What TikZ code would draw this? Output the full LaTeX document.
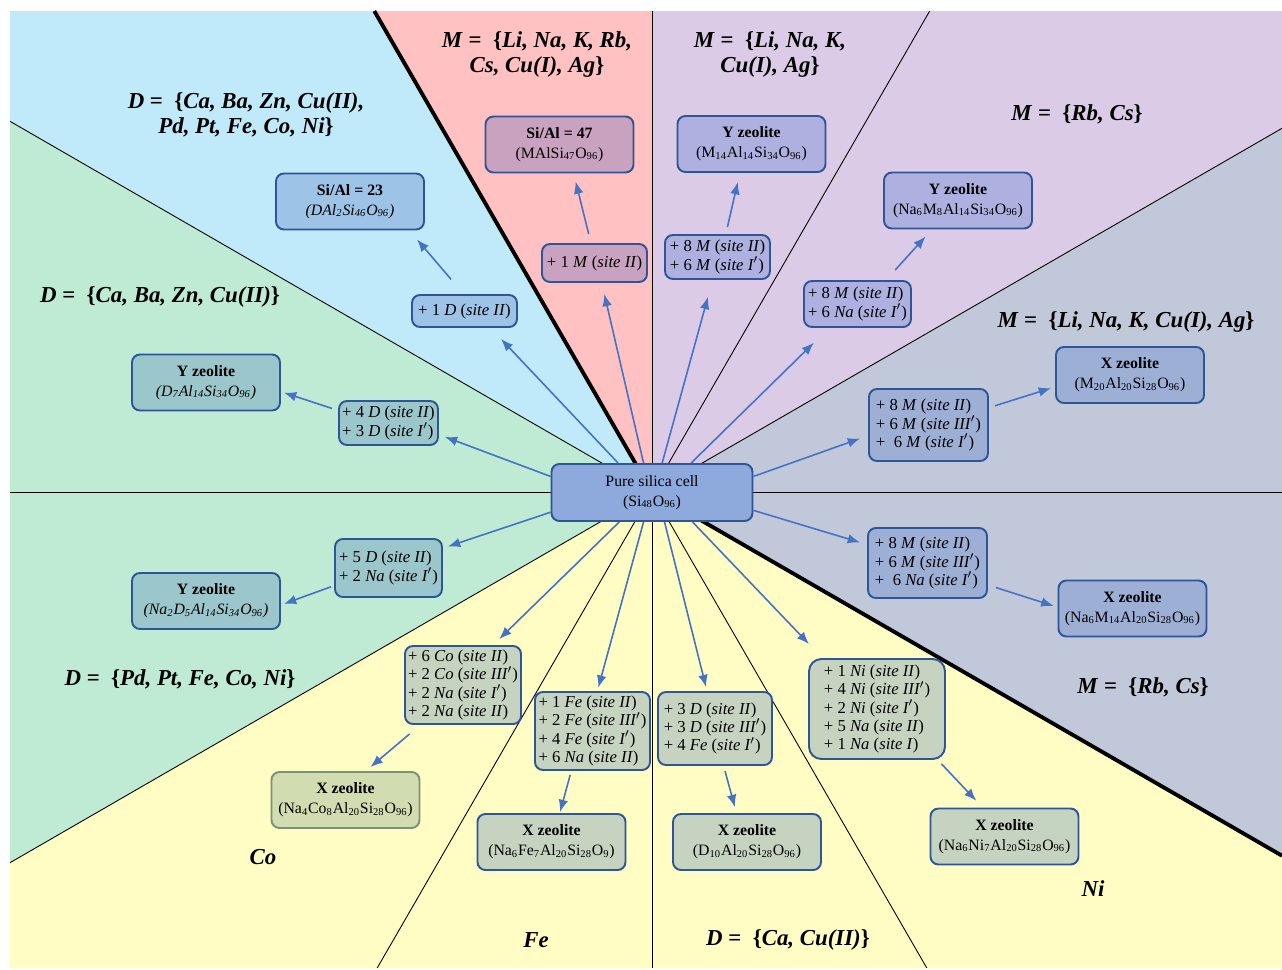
\documentclass[tikz,border=0pt]{standalone}
\usepackage{fontspec}
\setmainfont{Liberation Serif}
\usetikzlibrary{arrows.meta}

\definecolor{skyfill}{HTML}{C0E9F9}
\definecolor{pinkfill}{HTML}{FFC1C1}
\definecolor{lilacfill}{HTML}{DCCBE7}
\definecolor{slatefill}{HTML}{C1C8D9}
\definecolor{creamfill}{HTML}{FFFDC4}
\definecolor{mintfill}{HTML}{BFEAD4}
\definecolor{cellfill}{HTML}{8EA9DB}
\definecolor{skybox}{HTML}{9DC3E6}
\definecolor{pinkbox}{HTML}{C8A2BF}
\definecolor{lilacbox}{HTML}{AEB1DF}
\definecolor{slatebox}{HTML}{9EAFD6}
\definecolor{mintbox}{HTML}{9BC6CB}
\definecolor{creambox}{HTML}{C6D3C1}
\definecolor{olivebox}{HTML}{D2DCB1}
\definecolor{oliveline}{HTML}{7B9278}
\definecolor{boxline}{HTML}{2F5597}
\definecolor{arrowblue}{HTML}{4472C4}

\newcommand{\sbx}[1]{\textsubscript{#1}}
\newcommand{\addion}[3]{+\ #1\ \textit{#2}\ (\textit{site\ #3})}
\newcommand{\ionset}[2]{#1\ \textup{=}\ \ \textup{\{}#2\textup{\}}}

\begin{document}
\begin{tikzpicture}[x=0.02cm,y=-0.02cm,
    box/.style={draw=boxline,line width=1.1pt,rounded corners=4.5pt,align=center,
      inner sep=1pt,font=\fontsize{9}{11.3}\selectfont},
    sitebox/.style={box,align=left,font=\fontsize{9.5}{10.4}\selectfont},
    zeo/.style={box,minimum width=2.96cm,minimum height=1.12cm},
    region/.style={align=center,font=\fontsize{13}{14.4}\selectfont\bfseries\itshape},
    divider/.style={line width=0.5pt},
    bolddivider/.style={line width=2.2pt},
    arr/.style={-{Latex[length=7pt,width=5.5pt]},arrowblue,line width=0.9pt}]
   \useasboundingbox (0,0) rectangle (1282,970);
   \fill[white] (0,0) rectangle (1282,970);
   % sectors
   \coordinate (o) at (652,492);
   \fill[pinkfill] (o) -- (374.3,11) -- (652,11) -- cycle;
   \fill[lilacfill] (o) -- (652,11) -- (1282,11) -- (1282,128.3) -- cycle;
   \fill[slatefill] (o) -- (1282,128.3) -- (1282,855.7) -- cycle;
   \fill[creamfill] (o) -- (1282,855.7) -- (1282,968) -- (10,968) -- (10,862.7) -- cycle;
   \fill[mintfill] (o) -- (10,862.7) -- (10,121.3) -- cycle;
   \fill[skyfill] (o) -- (10,121.3) -- (10,11) -- (374.3,11) -- cycle;
   \draw[divider] (10,492) -- (1282,492);
   \draw[divider] (652,11) -- (652,968);
   \draw[divider] (10,121.3) -- (o) (929.7,11) -- (377.2,968)
      (1282,128.3) -- (10,862.7) (o) -- (926.8,968);
   \draw[bolddivider] (374.3,11) -- (o) -- (1282,855.7);
   % region labels
   \node[region] (lsky) at (246,115) {\ionset{D}{Ca, Ba, Zn, Cu(II),\\ Pd, Pt, Fe, Co, Ni}};
   \node[region] (lpink) at (537,54.5) {\ionset{M}{Li, Na, K, Rb,\\ Cs, Cu(I), Ag}};
   \node[region] (llilac) at (770,54.5) {\ionset{M}{Li, Na, K,\\ Cu(I), Ag}};
   \node[region] (lrbcs) at (1077,114) {\ionset{M}{Rb, Cs}};
   \node[region] (lalk) at (1126,322) {\ionset{M}{Li, Na, K, Cu(I), Ag}};
   \node[region] (ldiv) at (160,297) {\ionset{D}{Ca, Ba, Zn, Cu(II)}};
   \node[region] (ltrans) at (180,679) {\ionset{D}{Pd, Pt, Fe, Co, Ni}};
   \node[region] (lrbcs2) at (1143,687) {\ionset{M}{Rb, Cs}};
   \node[region] (lco) at (263,857) {Co};
   \node[region] (lfe) at (536,940) {Fe};
   \node[region] (lcacu) at (788,940) {\ionset{D}{Ca, Cu(II)}};
   \node[region] (lni) at (1093,889) {Ni};
   % boxes
   \node[box,fill=cellfill,minimum width=4.02cm,minimum height=1.14cm] (cell) at (652,492.5)
      {Pure silica cell\\(Si\sbx{48}O\sbx{96})};
   \node[sitebox,fill=skybox,minimum width=2.1cm,minimum height=0.64cm] (d1) at (464.5,311) {\addion{1}{D}{II}};
   \node[zeo,fill=skybox] (z1) at (350,201.5) {\textbf{Si/Al = 23}\\\textit{(DAl\sbx{2}Si\sbx{46}O\sbx{96})}};
   \node[sitebox,fill=pinkbox,minimum width=2.1cm,minimum height=0.76cm] (m1) at (594.5,263) {\addion{1}{M}{II}};
   \node[zeo,fill=pinkbox] (z2) at (559.5,144.5) {\textbf{Si/Al = 47}\\(MAlSi\sbx{47}O\sbx{96})};
   \node[sitebox,fill=lilacbox,minimum width=2.1cm,minimum height=0.88cm] (m2) at (717.5,257)
      {\addion{8}{M}{II}\\\addion{6}{M}{I$'$}};
   \node[zeo,fill=lilacbox] (z3) at (751.5,144) {\textbf{Y zeolite}\\(M\sbx{14}Al\sbx{14}Si\sbx{34}O\sbx{96})};
   \node[sitebox,fill=lilacbox,minimum width=2.14cm,minimum height=0.92cm] (m3) at (857.5,304)
      {\addion{8}{M}{II}\\\addion{6}{Na}{I$'$}};
   \node[zeo,fill=lilacbox] (z4) at (958,200.5) {\textbf{Y zeolite}\\(Na\sbx{6}M\sbx{8}Al\sbx{14}Si\sbx{34}O\sbx{96})};
   \node[sitebox,fill=slatebox,minimum width=2.38cm,minimum height=1.44cm] (m4) at (928.5,425)
      {\addion{8}{M}{II}\\\addion{6}{M}{III$'$}\\\addion{\ 6}{M}{I$'$}};
   \node[zeo,fill=slatebox] (z5) at (1130,375) {\textbf{X zeolite}\\(M\sbx{20}Al\sbx{20}Si\sbx{28}O\sbx{96})};
   \node[sitebox,fill=slatebox,minimum width=2.38cm,minimum height=1.4cm] (m5) at (927.5,563)
      {\addion{8}{M}{II}\\\addion{6}{M}{III$'$}\\\addion{\ 6}{Na}{I$'$}};
   \node[zeo,fill=slatebox] (z6) at (1132.5,608.5) {\textbf{X zeolite}\\(Na\sbx{6}M\sbx{14}Al\sbx{20}Si\sbx{28}O\sbx{96})};
   \node[sitebox,fill=mintbox,minimum width=1.98cm,minimum height=0.88cm] (d2) at (388.5,423)
      {\addion{4}{D}{II}\\\addion{3}{D}{I$'$}};
   \node[zeo,fill=mintbox] (z7) at (206,382.5) {\textbf{Y zeolite}\\\textit{(D\sbx{7}Al\sbx{14}Si\sbx{34}O\sbx{96})}};
   \node[sitebox,fill=mintbox,minimum width=2.14cm,minimum height=1.16cm] (d3) at (388.5,568)
      {\addion{5}{D}{II}\\\addion{2}{Na}{I$'$}};
   \node[zeo,fill=mintbox] (z8) at (206,601) {\textbf{Y zeolite}\\\textit{(Na\sbx{2}D\sbx{5}Al\sbx{14}Si\sbx{34}O\sbx{96})}};
   \node[sitebox,fill=creambox,minimum width=2.32cm,minimum height=1.56cm] (co) at (463,685)
      {\addion{6}{Co}{II}\\\addion{2}{Co}{III$'$}\\\addion{2}{Na}{I$'$}\\\addion{2}{Na}{II}};
   \node[zeo,fill=olivebox,draw=oliveline] (z9) at (345.5,800) {\textbf{X zeolite}\\(Na\sbx{4}Co\sbx{8}Al\sbx{20}Si\sbx{28}O\sbx{96})};
   \node[sitebox,fill=creambox,minimum width=2.3cm,minimum height=1.56cm] (fe) at (592.5,731)
      {\addion{1}{Fe}{II}\\\addion{2}{Fe}{III$'$}\\\addion{4}{Fe}{I$'$}\\\addion{6}{Na}{II}};
   \node[zeo,fill=creambox] (z10) at (551.5,842) {\textbf{X zeolite}\\(Na\sbx{6}Fe\sbx{7}Al\sbx{20}Si\sbx{28}O\sbx{9})};
   \node[sitebox,fill=creambox,minimum width=2.28cm,minimum height=1.46cm] (dca) at (715,728.5)
      {\addion{3}{D}{II}\\\addion{3}{D}{III$'$}\\\addion{4}{Fe}{I$'$}};
   \node[zeo,fill=creambox] (z11) at (747,842) {\textbf{X zeolite}\\(D\sbx{10}Al\sbx{20}Si\sbx{28}O\sbx{96})};
   \node[sitebox,fill=creambox,minimum width=2.72cm,minimum height=2cm,rounded corners=7pt] (ni) at (877,709)
      {\addion{1}{Ni}{II}\\\addion{4}{Ni}{III$'$}\\\addion{2}{Ni}{I$'$}\\\addion{5}{Na}{II}\\\addion{1}{Na}{I}};
   \node[zeo,fill=creambox] (z12) at (1004.5,836.5) {\textbf{X zeolite}\\(Na\sbx{6}Ni\sbx{7}Al\sbx{20}Si\sbx{28}O\sbx{96})};
   % arrows
   \path[arr]
    (cell.139) edge[shorten >=8.6pt] (d1.-33)
    (cell.106) edge[shorten >=6.4pt] (m1.-70)
    (cell.71)  edge[shorten >=10pt] (m2.-102)
    (cell.37)  edge[shorten >=12pt] (m3.-140)
    (cell.9)   edge[shorten >=4.8pt] (m4.190)
    (cell.-10) edge[shorten >=4.2pt] (m5.163)
    (cell.171) edge[shorten >=3.6pt] (d2.-13)
    (cell.191) edge[shorten >=3pt] (d3.20)
    (cell.-138) edge[shorten >=4.9pt] (co.53)
    (cell.-106) edge[shorten >=2pt] (fe.83)
    (cell.-67) edge[shorten >=2.3pt] (dca.102)
    (cell.-36) edge[shorten >=11pt] (ni.137)
    (d1.93)  edge[shorten <=11pt,shorten >=6.7pt] (z1.-26)
    (m1.100) edge[shorten <=5.3pt,shorten >=4.7pt] (z2.-64)
    (m2.70)  edge[shorten <=4.1pt,shorten >=5.3pt] (z3.-112)
    (m3.40)  edge[shorten <=7.7pt,shorten >=5.4pt] (z4.-132)
    (m4.16)  edge[shorten <=3.6pt,shorten >=2.4pt] (z5.189)
    (m5.-20) edge[shorten <=4.8pt,shorten >=2.4pt] (z6.179)
    (d2.166) edge[shorten <=3.6pt,shorten >=1.8pt] (z7.-7)
    (d3.198) edge[shorten <=1.8pt,shorten >=1.8pt] (z8.-3)
    (co.-137) edge[shorten <=7.9pt,shorten >=3.5pt] (z9.55)
    (fe.-118) edge[shorten <=2.4pt,shorten >=0.6pt] (z10.74)
    (dca.-77) edge[shorten <=3pt,shorten >=3.5pt] (z11.110)
    (ni.-40)  edge[shorten <=3pt,shorten >=5.3pt] (z12.127);
\end{tikzpicture}
\end{document}
